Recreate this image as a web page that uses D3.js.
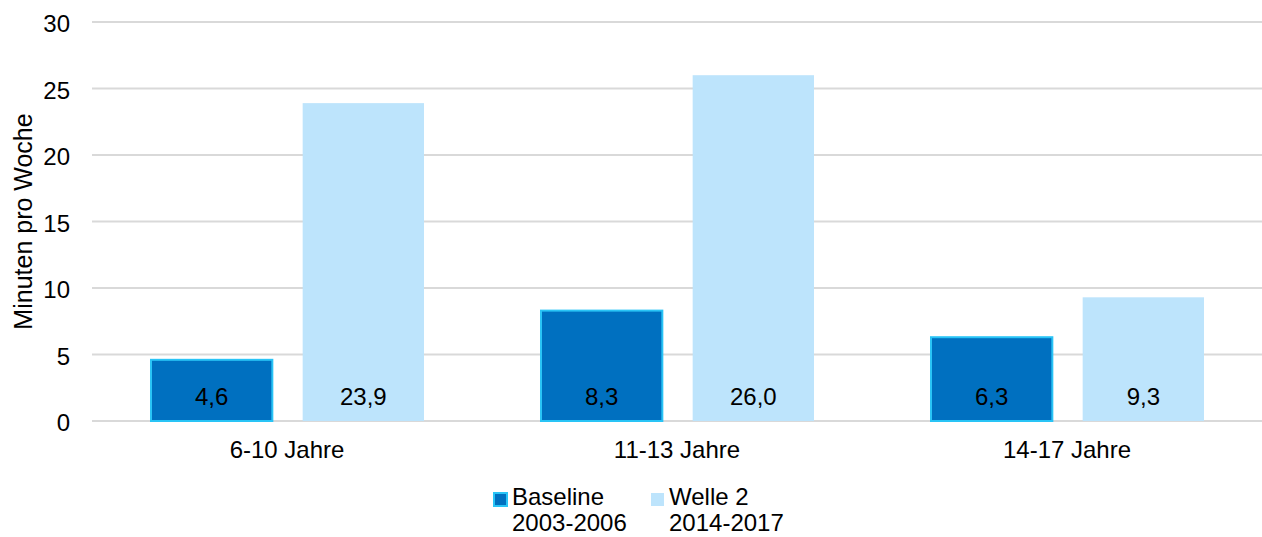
<!DOCTYPE html>
<html><head><meta charset="utf-8">
<script src="https://cdn.jsdelivr.net/npm/d3@7"></script>
<style>body{margin:0;background:#fff}svg{display:block}text{font-family:"Liberation Sans",Arial,sans-serif}</style>
</head><body>
<svg id="c" width="1262" height="537"></svg>
<script>
const categories = ["6-10 Jahre", "11-13 Jahre", "14-17 Jahre"];
const seriesNames = [["Baseline", "2003-2006"], ["Welle 2", "2014-2017"]];
const baseline = [4.6, 8.3, 6.3];
const welle2 = [23.9, 26.0, 9.3];
const yTicks = [0, 5, 10, 15, 20, 25, 30];

(function () {
const svg = d3.select("#c");
const FS = 24;
const mLeft = 92, mRight = 1262, mTop = 22, mBottom = 421;
const y = d3.scaleLinear().domain([0, 30]).range([mBottom, mTop]);
const x0 = d3.scaleBand().domain(categories).range([mLeft, mRight]);
const x1 = d3.scaleBand().domain([0, 1]).range([59, 332]).paddingInner(0.2);

const colors = ["#0070C0", "#BDE4FC"];
const strokes = ["#29C4F6", "none"];

svg.append("g").selectAll("line").data(yTicks).join("line")
  .attr("x1", mLeft).attr("x2", mRight)
  .attr("y1", d => y(d)).attr("y2", d => y(d))
  .attr("stroke", "#D9D9D9").attr("stroke-width", 2);

const yAxis = d3.axisLeft(y).tickValues(yTicks).tickSize(0).tickPadding(0);
const ya = svg.append("g").attr("transform", `translate(${mLeft - 22},0)`).call(yAxis);
ya.select(".domain").remove();
ya.selectAll("text").attr("font-size", FS).attr("fill", "#000").attr("dy", "0.4em")
  .attr("font-family", "Liberation Sans, Arial, sans-serif");

svg.append("text").attr("transform", `translate(32,${(mTop + mBottom) / 2}) rotate(-90)`)
  .attr("text-anchor", "middle").attr("font-size", 25).attr("fill", "#000").text("Minuten pro Woche");

const xAxis = d3.axisBottom(x0).tickSize(0).tickPadding(20);
const xa = svg.append("g").attr("transform", `translate(0,${mBottom})`).call(xAxis);
xa.select(".domain").remove();
xa.selectAll("text").attr("font-size", FS).attr("fill", "#000")
  .attr("font-family", "Liberation Sans, Arial, sans-serif");

const data = categories.map((c, i) => ({c, vals: [baseline[i], welle2[i]]}));
const fmt = v => d3.format(".1f")(v).replace(".", ",");

const g = svg.append("g").selectAll("g").data(data).join("g")
  .attr("transform", d => `translate(${x0(d.c)},0)`);
g.selectAll("rect").data(d => d.vals.map((v, k) => ({v, k}))).join("rect")
  .attr("x", d => x1(d.k)).attr("width", x1.bandwidth())
  .attr("y", d => y(d.v)).attr("height", d => mBottom - y(d.v))
  .attr("fill", d => colors[d.k])
  .attr("stroke", d => strokes[d.k]).attr("stroke-width", 2);
g.selectAll("text").data(d => d.vals.map((v, k) => ({v, k}))).join("text")
  .attr("x", d => x1(d.k) + x1.bandwidth() / 2)
  .attr("y", mBottom - 16).attr("text-anchor", "middle")
  .attr("font-size", FS).attr("fill", "#000").text(d => fmt(d.v));

const lg = svg.append("g");
const lx = [494, 651];
seriesNames.forEach((n, k) => {
  lg.append("rect").attr("x", lx[k]).attr("y", 493).attr("width", 13).attr("height", 13)
    .attr("fill", colors[k]).attr("stroke", strokes[k]).attr("stroke-width", 2);
  lg.append("text").attr("x", lx[k] + 18).attr("y", 505).attr("font-size", FS).attr("fill", "#000").text(n[0]);
  lg.append("text").attr("x", lx[k] + 18).attr("y", 531).attr("font-size", FS).attr("fill", "#000").text(n[1]);
});
})();
</script>
</body></html>
